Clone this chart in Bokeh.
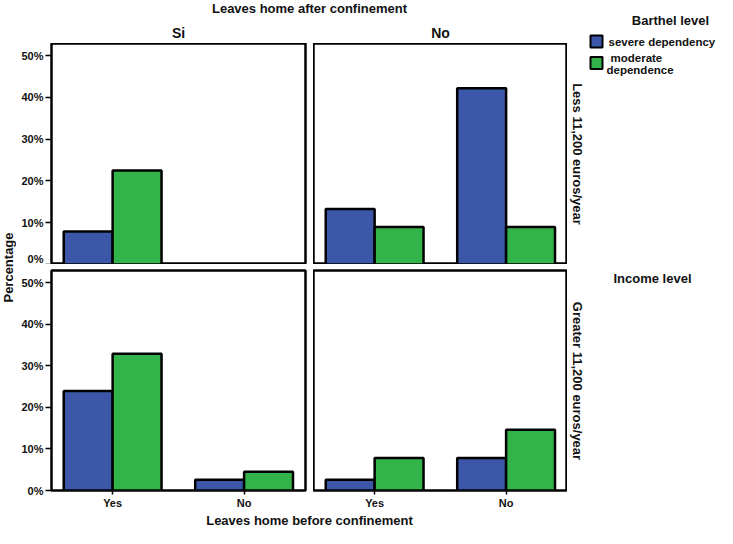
import math
from bokeh.plotting import figure
from bokeh.layouts import row, column
from bokeh.models import Range1d, FixedTicker
from bokeh.core.properties import value
from bokeh.embed import file_html
from bokeh.resources import INLINE

# ---------------- data ----------------
after_levels = ["Si", "No"]                       # column facets (Leaves home after confinement)
income_levels = ["Less 11,200 euros/year", "Greater 11,200 euros/year"]  # row facets
before_levels = ["Yes", "No"]                     # x categories (Leaves home before confinement)
series_names = ["severe dependency", "moderate dependence"]
series_colors = ["#3D57A8", "#32B44A"]

severe_less_si = [7.9, 0.0]
moderate_less_si = [22.5, 0.0]
severe_less_no = [13.3, 42.2]
moderate_less_no = [9.0, 9.0]
severe_greater_si = [23.9, 2.6]
moderate_greater_si = [32.9, 4.5]
severe_greater_no = [2.6, 7.8]
moderate_greater_no = [7.8, 14.6]

y_ticks = [0, 10, 20, 30, 40, 50]
y_tick_labels = ["0%", "10%", "20%", "30%", "40%", "50%"]

title_top = "Leaves home after confinement"
title_bottom = "Leaves home before confinement"
y_title = "Percentage"
legend_title = "Barthel level"
row_title = "Income level"

# ---------------- layout constants ----------------
FONT = "Liberation Sans"
FW, FH = 254, 221
GAP_X, GAP_Y = 8, 6
YL_W = 16
LEFT_B = 35
HEAD_H = 43
BOT_B = 20
XL_H = 17
TOTAL_W, TOTAL_H = 717, 528
CENTER_W = LEFT_B + FW + GAP_X + FW
LEG_W = TOTAL_W - YL_W - CENTER_W
BW = 0.372
Y_MAX = 52.9


def panel(sev, mod, left, bottom):
    width = (LEFT_B + FW + GAP_X) if left else FW
    height = (GAP_Y + FH + BOT_B) if bottom else FH
    p = figure(width=width, height=height,
               x_range=Range1d(-0.465, 1.467), y_range=Range1d(0, Y_MAX),
               output_backend="svg", toolbar_location=None,
               x_axis_location="below" if bottom else None,
               y_axis_location="left" if left else None,
               min_border_left=LEFT_B if left else 0,
               min_border_right=GAP_X if left else 0,
               min_border_top=GAP_Y if bottom else 0,
               min_border_bottom=BOT_B if bottom else 0)
    p.grid.visible = False
    p.outline_line_color = "black"
    p.outline_line_width = 2.5
    p.background_fill_color = "white"
    p.border_fill_color = "white"
    for k, (vals, col) in enumerate(zip([sev, mod], series_colors)):
        off = (-0.5 + k) * BW
        xs = [i + off for i, v in enumerate(vals) if v > 0]
        tops = [v for v in vals if v > 0]
        p.vbar(x=xs, top=tops, width=BW, bottom=0, fill_color=col,
               line_color="black", line_width=2.5)
    for ax in p.axis:
        ax.axis_line_color = None
        ax.major_tick_line_color = "black"
        ax.major_tick_line_width = 1.5
        ax.minor_tick_line_color = None
        ax.major_label_text_font = FONT
        ax.major_label_text_font_style = "bold"
        ax.major_label_text_font_size = "11px"
        ax.major_label_text_color = "#111111"
        ax.major_label_standoff = 2
        ax.major_tick_in = 0
    if left:
        p.yaxis.ticker = FixedTicker(ticks=y_ticks)
        p.yaxis.major_label_overrides = {t: l for t, l in zip(y_ticks, y_tick_labels)}
        p.yaxis.major_tick_out = 6
    if bottom:
        p.xaxis.ticker = FixedTicker(ticks=list(range(len(before_levels))))
        p.xaxis.major_label_overrides = {i: l for i, l in enumerate(before_levels)}
        p.xaxis.major_tick_out = 4
    return p


def text_fig(w, h):
    p = figure(width=w, height=h, x_range=Range1d(0, w), y_range=Range1d(h, 0),
               output_backend="svg", toolbar_location=None,
               x_axis_location=None, y_axis_location=None,
               min_border_left=0, min_border_right=0, min_border_top=0, min_border_bottom=0)
    p.grid.visible = False
    p.outline_line_color = None
    p.background_fill_color = "white"
    p.border_fill_color = "white"
    return p


def add_text(p, x, y, txt, size="13px", align="center", angle=0.0):
    p.text(x=[x], y=[y], text=[txt], text_font=value(FONT), text_font_style="bold",
           text_font_size=size, text_align=align, text_baseline="middle",
           text_color="#111111", angle=angle)


# panels
tl = panel(severe_less_si, moderate_less_si, True, False)
tr = panel(severe_less_no, moderate_less_no, False, False)
bl = panel(severe_greater_si, moderate_greater_si, True, True)
br = panel(severe_greater_no, moderate_greater_no, False, True)

# header with main title and column strip labels
head = text_fig(CENTER_W, HEAD_H)
cx = LEFT_B + (2 * FW + GAP_X) / 2
add_text(head, cx, 8, title_top, "13px")
add_text(head, LEFT_B + FW / 2, 32, after_levels[0], "14px")
add_text(head, LEFT_B + FW + GAP_X + FW / 2, 32, after_levels[1], "14px")

# x axis title
xlab = text_fig(CENTER_W, XL_H)
add_text(xlab, cx, 9, title_bottom, "13px")

# y axis title
ylab = text_fig(YL_W, TOTAL_H)
add_text(ylab, YL_W / 2, HEAD_H + FH + GAP_Y / 2, y_title, "13px", angle=math.pi / 2)

# right side: row strip labels and legend
leg = text_fig(LEG_W, TOTAL_H)
add_text(leg, 10, HEAD_H + FH / 2, income_levels[0], "13px", angle=-math.pi / 2)
add_text(leg, 10, HEAD_H + FH + GAP_Y + FH / 2, income_levels[1], "13px", angle=-math.pi / 2)
add_text(leg, 103, 20, legend_title, "13px")
sw_y = [41, 62.5]
leg.rect(x=[29, 29], y=sw_y, width=12, height=12, fill_color=series_colors,
         line_color="black", line_width=2)
add_text(leg, 41, sw_y[0], series_names[0], "11.5px", align="left")
words = series_names[1].split(" ")
add_text(leg, 43, 57, words[0], "11.5px", align="left")
add_text(leg, 39, 69, words[1], "11.5px", align="left")
add_text(leg, 85, 278, row_title, "13px")

center = column(head, row(tl, tr), row(bl, br), xlab)
root = row(ylab, center, leg)

open("out.html", "w").write(file_html(root, INLINE))
